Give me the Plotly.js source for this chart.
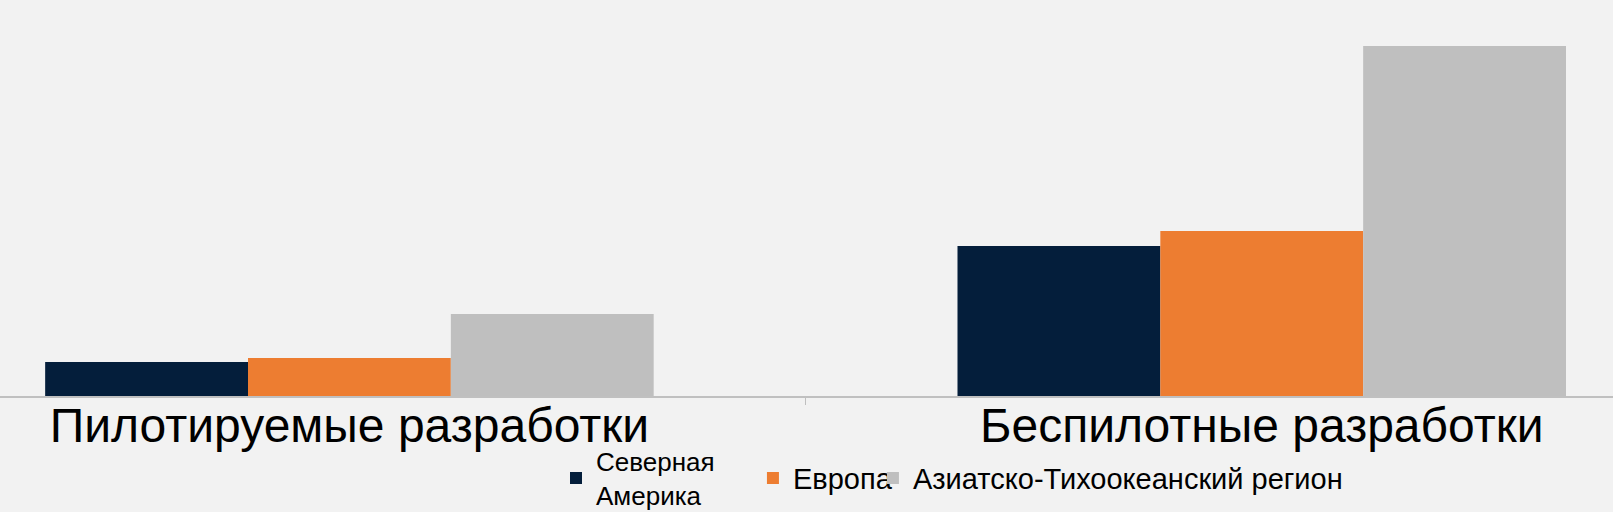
<!DOCTYPE html>
<html>
<head>
<meta charset="utf-8">
<script src="https://cdn.plot.ly/plotly-3.0.1.min.js"></script>
<style>
  html, body { margin: 0; padding: 0; background: #f2f2f2; }
  #chart { width: 1613px; height: 512px; }
</style>
</head>
<body>
<div id="chart"></div>
<script>
// categories and series
var categories = ['Пилотируемые разработки', 'Беспилотные разработки'];
var seriesNames = ['Северная<br>Америка', 'Европа', 'Азиатско-Тихоокеанский регион'];
var northAmerica = [1.7, 7.5];
var europe = [1.9, 8.25];
var asiaPacific = [4.1, 17.5];
var colors = ['#041e3b', '#ed7d31', '#bfbfbf'];
// the two-line entry sits in its own legend, the others in a second one
var legendIds = ['legend', 'legend2', 'legend2'];

var values = [northAmerica, europe, asiaPacific];

var data = values.map(function (v, i) {
  var trace = {
    x: categories,
    y: v,
    name: seriesNames[i],
    type: 'bar',
    legend: legendIds[i],
    hoverinfo: 'none',
    marker: { color: colors[i], line: { width: 0 } }
  };
  if (i === 1) trace.legendwidth = 75;
  return trace;
});

var legendBase = {
  orientation: 'h',
  xref: 'paper',
  xanchor: 'left',
  yref: 'container',
  y: 0.066,
  yanchor: 'middle',
  bgcolor: 'rgba(0,0,0,0)',
  traceorder: 'normal'
};

var layout = {
  width: 1613,
  height: 512,
  barmode: 'group',
  bargap: 0.333,
  bargroupgap: 0,
  paper_bgcolor: '#f2f2f2',
  plot_bgcolor: '#f2f2f2',
  margin: { t: 0, b: 116, l: 0, r: 0 },
  font: { family: 'Liberation Sans, Arial, sans-serif', color: '#000000' },
  xaxis: {
    type: 'category',
    range: [-0.383, 1.385],
    tickson: 'boundaries',
    ticks: 'outside',
    ticklen: 7,
    tickwidth: 1,
    tickcolor: '#bfbfbf',
    ticklabelstandoff: -14,
    showline: true,
    linecolor: '#c0c0c0',
    linewidth: 2,
    showgrid: false,
    zeroline: false,
    tickfont: { size: 48, color: '#000000' }
  },
  yaxis: {
    range: [0, 19.8],
    showgrid: false,
    zeroline: false,
    showline: false,
    showticklabels: false,
    ticks: ''
  },
  showlegend: true,
  legend: Object.assign({}, legendBase, {
    x: 0.3447,
    font: { size: 26, color: '#000000' }
  }),
  legend2: Object.assign({}, legendBase, {
    x: 0.4668,
    font: { size: 29, color: '#000000' }
  })
};

var config = { displayModeBar: false, staticPlot: true };

Plotly.newPlot('chart', data, layout, config);
</script>
</body>
</html>
